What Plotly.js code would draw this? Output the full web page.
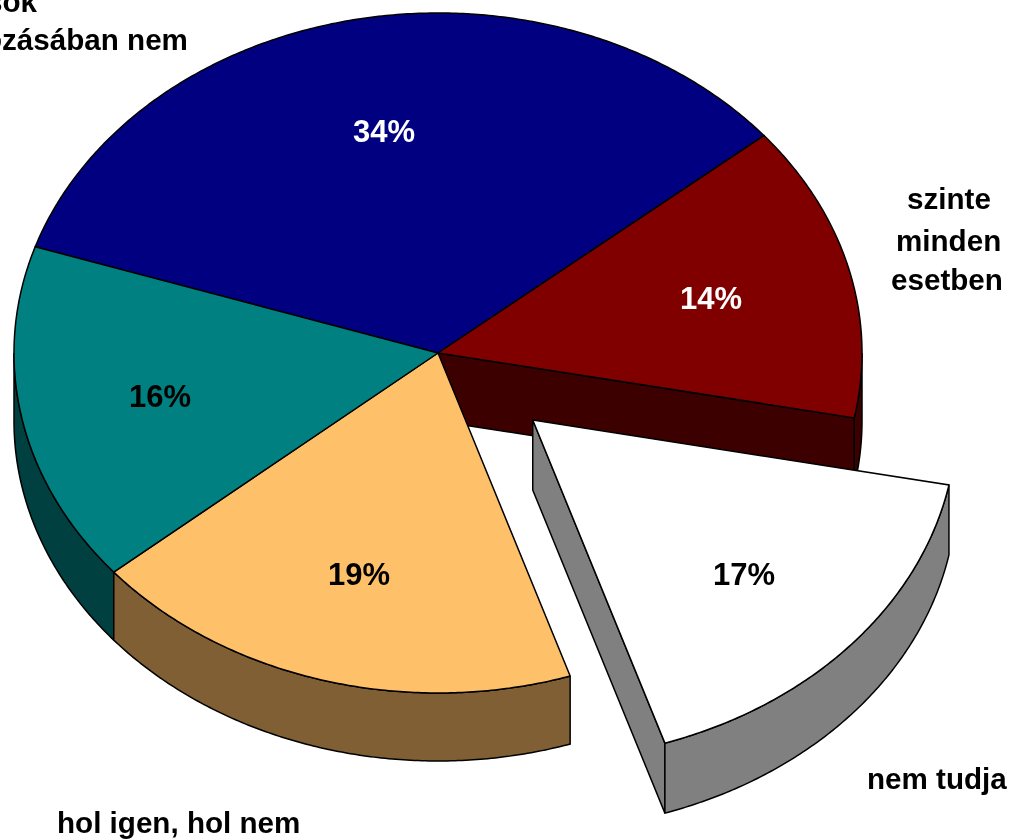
<!DOCTYPE html>
<html>
<head>
<meta charset="utf-8">
<script src="https://cdn.plot.ly/plotly-3.0.1.min.js"></script>
<style>html,body{margin:0;padding:0;background:#fff;overflow:hidden}#c{width:1010px;height:840px;filter:blur(0.5px)}</style>
</head>
<body>
<div id="c"></div>
<script>
const categories = ["sok", "szinte minden esetben", "nem tudja", "hol igen, hol nem", "nincs felirat"];
const shares = [33.9, 14.1, 16.9, 18.9, 16.2];
const topColors = ["#000080", "#800000", "#ffffff", "#ffc06a", "#008080"];
const wallColors = ["#000040", "#3d0000", "#808080", "#7f5f33", "#004040"];
const percentColors = ["#ffffff", "#ffffff", "#000000", "#000000", "#000000"];
const exploded = [0, 0, 0.298, 0, 0];

const CX = 438, CY = 353, RX = 424, RY = 340, DEPTH = 68, START = -71.8;

function pt(deg, ox, oy) {
  const t = deg * Math.PI / 180;
  return [CX + ox + RX * Math.sin(t), CY + oy - RY * Math.cos(t)];
}
function arc(a, b, ox, oy) {
  const n = Math.max(2, Math.ceil(Math.abs(b - a) * 2)), out = [];
  for (let i = 0; i <= n; i++) out.push(pt(a + (b - a) * i / n, ox, oy));
  return out;
}
function poly(points, fill, width) {
  return {
    type: "scatter", mode: "lines", fill: "toself", fillcolor: fill,
    x: points.map(p => p[0]), y: points.map(p => p[1]),
    line: {color: "#000000", width: width || 1.5, simplify: false},
    hoverinfo: "skip", showlegend: false
  };
}

// slice angle ranges, clockwise from 12 o'clock
let run = START;
const slices = shares.map((v, i) => {
  const a = run, b = run + v * 3.6; run = b;
  const mid = (a + b) / 2, t = mid * Math.PI / 180;
  return {a, b, mid, ox: exploded[i] * RX * Math.sin(t), oy: -exploded[i] * RY * Math.cos(t), d: exploded[i] ? DEPTH + 2 : DEPTH};
});

const walls = [];
// outer rim walls (only the front half of the ellipse is visible)
function rim(i) {
  const s = slices[i];
  const a = Math.max(s.a, 90), b = Math.min(s.b, 270);
  const upper = arc(a, b, s.ox, s.oy), lower = arc(b, a, s.ox, s.oy + s.d);
  return poly(upper.concat(lower, [upper[0]]), wallColors[i]);
}
// radial cut face of a slice along angle deg
function cut(i, deg) {
  const s = slices[i];
  const c = [CX + s.ox, CY + s.oy], e = pt(deg, s.ox, s.oy);
  return poly([c, e, [e[0], e[1] + s.d], [c[0], c[1] + s.d], c], wallColors[i]);
}
walls.push(rim(4), rim(3), rim(1), cut(1, slices[1].b));

function sliceTop(i) {
  const s = slices[i];
  const c = [CX + s.ox, CY + s.oy];
  return poly([c].concat(arc(s.a, s.b, s.ox, s.oy), [c]), topColors[i]);
}
const whiteGroup = [cut(2, slices[2].b), rim(2), sliceTop(2)];
const mainTops = [sliceTop(0), sliceTop(1), sliceTop(3), sliceTop(4)];

// labels
const pctPos = [[384, 131], [711, 298], [744, 574], [359, 574], [160, 396]];
const outerText = [
  {t: "sok", x: 40, y: 1, anchor: "right"},
  {t: "ozásában nem", x: 190, y: 39, anchor: "right"},
  {t: "szinte", x: 949, y: 198, anchor: "center"},
  {t: "minden", x: 948, y: 240, anchor: "center"},
  {t: "esetben", x: 947, y: 279, anchor: "center"},
  {t: "nem tudja", x: 937, y: 778, anchor: "center"},
  {t: "hol igen, hol nem", x: 178, y: 822, anchor: "center"}
];
const FONT = "Liberation Sans, Arial, sans-serif";
const annotations = shares.map((v, i) => ({
  x: pctPos[i][0], y: pctPos[i][1], xref: "x", yref: "y", showarrow: false,
  text: "<b>" + Math.round(v) + "%</b>", xanchor: "center", yanchor: "middle",
  font: {family: FONT, size: 31, color: percentColors[i]}
})).concat(outerText.map(o => ({
  x: o.x, y: o.y, xref: "x", yref: "y", showarrow: false,
  text: "<b>" + o.t + "</b>", xanchor: o.anchor, yanchor: "middle",
  font: {family: FONT, size: 29.6, color: "#000000"}
})));

Plotly.newPlot("c", walls.concat(mainTops, whiteGroup), {
  width: 1010, height: 840,
  margin: {l: 0, r: 0, t: 0, b: 0},
  paper_bgcolor: "#ffffff", plot_bgcolor: "#ffffff",
  xaxis: {range: [0, 1010], visible: false, fixedrange: true},
  yaxis: {range: [840, 0], visible: false, fixedrange: true},
  showlegend: false, annotations: annotations, hovermode: false
}, {displayModeBar: false, staticPlot: true});
</script>
</body>
</html>
